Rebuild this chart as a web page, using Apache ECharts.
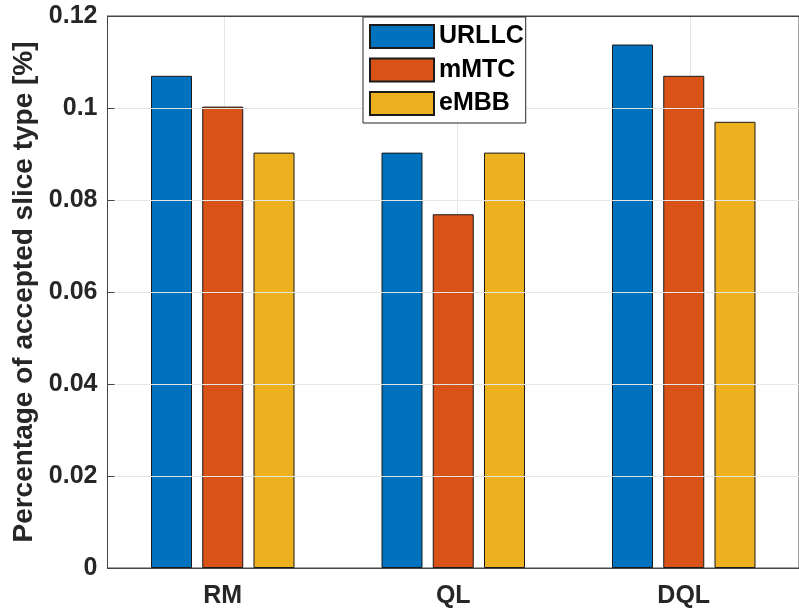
<!DOCTYPE html>
<html><head><meta charset="utf-8">
<script src="https://cdn.jsdelivr.net/npm/echarts@6/dist/echarts.min.js"></script>
<style>html,body{margin:0;padding:0;background:#fff}#c{width:799px;height:611px}</style>
</head><body><div id="c"></div>
<script>
const categories = ['RM', 'QL', 'DQL'];
const seriesNames = ['URLLC', 'mMTC', 'eMBB'];
const urllc = [0.107, 0.0903, 0.1138];
const mmtc = [0.1003, 0.0769, 0.107];
const embb = [0.0903, 0.0903, 0.097];
const yTicks = [0, 0.02, 0.04, 0.06, 0.08, 0.1, 0.12];
const colors = ['#0072BD', '#D95319', '#EDB120'];
const values = [urllc, mmtc, embb];

const font = 'Liberation Sans, Arial, Helvetica, sans-serif';
const chart = echarts.init(document.getElementById('c'), null, {renderer: 'canvas'});
const bars = seriesNames.map((n, i) => ({
  name: n, type: 'bar', data: values[i], barWidth: 41, barGap: '25%', z: 3,
  xAxisIndex: 0, yAxisIndex: 0,
  itemStyle: {color: colors[i], borderColor: '#1a1a1a', borderWidth: 1}
}));
chart.setOption({
  animation: false,
  backgroundColor: '#fff',
  grid: [
    {left: 107.5, right: -7.5, top: 16, bottom: 43, show: true, borderColor: '#444', borderWidth: 1},
    {left: 224, right: 109, top: 16, bottom: 43, show: false}
  ],
  legend: {
    orient: 'vertical', left: 363, top: 17, data: seriesNames, icon: 'rect',
    itemWidth: 64, itemHeight: 23, itemGap: 8.5, padding: [7, 2, 7, 6],
    borderColor: '#262626', borderWidth: 1, backgroundColor: '#fff',
    textStyle: {fontFamily: font, fontWeight: 'bold', fontSize: 25, color: '#000'},
    z: 10
  },
  xAxis: [{
    gridIndex: 0, type: 'category', data: categories, position: 'bottom',
    axisLine: {lineStyle: {color: '#444'}},
    axisTick: {alignWithLabel: true, inside: true, length: 7, lineStyle: {color: '#444'}},
    axisLabel: {fontFamily: font, fontWeight: 'bold', fontSize: 25, color: '#262626', margin: 16},
    splitLine: {show: false}, z: 4
  }, {
    gridIndex: 0, type: 'category', data: categories, position: 'top',
    axisLine: {lineStyle: {color: '#444'}},
    axisTick: {alignWithLabel: true, inside: true, length: 7, lineStyle: {color: '#444'}},
    axisLabel: {show: false}, splitLine: {show: false}, z: 4
  }, {
    gridIndex: 1, type: 'value', min: 0, max: categories.length - 1, interval: 1,
    axisLine: {show: false}, axisTick: {show: false}, axisLabel: {show: false},
    splitLine: {show: true, lineStyle: {color: '#e6e6e6', width: 1}}
  }],
  yAxis: [{
    gridIndex: 0, type: 'value', min: yTicks[0], max: yTicks[yTicks.length - 1], interval: 0.02,
    name: 'Percentage of accepted slice type [%]', nameLocation: 'middle', nameGap: 68,
    nameTextStyle: {fontFamily: font, fontWeight: 'bold', fontSize: 28, color: '#262626'},
    axisLine: {show: true, lineStyle: {color: '#444'}},
    axisTick: {show: true, inside: true, length: 7, lineStyle: {color: '#444'}},
    axisLabel: {fontFamily: font, fontWeight: 'bold', fontSize: 25, color: '#262626', margin: 10,
      formatter: v => String(Math.round(v * 100) / 100)},
    splitLine: {show: true, lineStyle: {color: '#e6e6e6', width: 1}}, z: 4
  }, {
    gridIndex: 1, type: 'value', min: 0, max: 1,
    axisLine: {show: false}, axisTick: {show: false}, axisLabel: {show: false}, splitLine: {show: false}
  }],
  series: bars
});
</script></body></html>
